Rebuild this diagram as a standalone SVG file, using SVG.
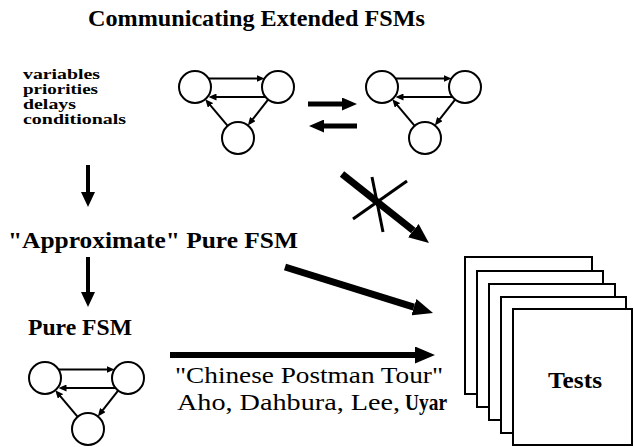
<svg xmlns="http://www.w3.org/2000/svg" xmlns:xlink="http://www.w3.org/1999/xlink" width="634" height="447" viewBox="0 0 634 447">
<style>
text{font-family:'Liberation Serif','Times New Roman','DejaVu Serif',serif;fill:#000}
.b{font-weight:bold}
.c{fill:#fff;stroke:#000;stroke-width:2}
.s{stroke:#000;stroke-width:2;fill:none}
.k{stroke:#000;fill:none}
.page{fill:#fff;stroke:#000;stroke-width:2}
</style>
<defs>
<marker id="hs" viewBox="0 0 8 7" markerWidth="8" markerHeight="7" refX="1" refY="3.5" orient="auto" markerUnits="userSpaceOnUse"><path d="M0,0 L8,3.5 L0,7 z" fill="#000"/></marker>
<marker id="hd" viewBox="0 0 15 14" markerWidth="15" markerHeight="14" refX="0" refY="7" orient="auto" markerUnits="userSpaceOnUse"><path d="M0,0 L15,7 L0,14 z" fill="#000"/></marker>
<marker id="hm" viewBox="0 0 15 13" markerWidth="15" markerHeight="13" refX="0" refY="6.5" orient="auto" markerUnits="userSpaceOnUse"><path d="M0,0 L15,6.5 L0,13 z" fill="#000"/></marker>
<marker id="hb" viewBox="0 0 20 17" markerWidth="20" markerHeight="17" refX="0" refY="8.5" orient="auto" markerUnits="userSpaceOnUse"><path d="M0,0 L20,8.5 L0,17 z" fill="#000"/></marker>
<g id="fsm">
<circle class="c" cx="0" cy="0" r="16"/>
<circle class="c" cx="83" cy="0" r="16"/>
<circle class="c" cx="43" cy="51" r="16"/>
<line class="s" x1="13.6" y1="-8.5" x2="62.5" y2="-8.5" marker-end="url(#hs)"/>
<line class="s" x1="70" y1="10" x2="20.5" y2="10" marker-end="url(#hs)"/>
<line class="s" x1="32.7" y1="38.8" x2="14.8" y2="17.6" marker-end="url(#hs)"/>
<line class="s" x1="73.1" y1="12.6" x2="57.2" y2="32.9" marker-end="url(#hs)"/>
</g>
</defs>
<g id="title"><text class="b" x="88" y="26" font-size="23" textLength="337" lengthAdjust="spacingAndGlyphs">Communicating Extended FSMs</text></g>
<g id="features">
<text class="b" x="23" y="79" font-size="14" textLength="77" lengthAdjust="spacingAndGlyphs">variables</text>
<text class="b" x="23" y="94" font-size="14" textLength="75" lengthAdjust="spacingAndGlyphs">priorities</text>
<text class="b" x="23" y="109" font-size="14" textLength="53" lengthAdjust="spacingAndGlyphs">delays</text>
<text class="b" x="23" y="124" font-size="14" textLength="103" lengthAdjust="spacingAndGlyphs">conditionals</text>
</g>
<g id="efsm1"><use xlink:href="#fsm" transform="translate(195,87)"/></g>
<g id="efsm2"><use xlink:href="#fsm" transform="translate(382,87)"/></g>
<g id="approx"><text class="b" x="8" y="248" font-size="23" textLength="290" lengthAdjust="spacingAndGlyphs">"Approximate" Pure FSM</text></g>
<g id="pure">
<text class="b" x="28" y="335" font-size="24" textLength="104" lengthAdjust="spacingAndGlyphs">Pure FSM</text>
<use xlink:href="#fsm" transform="translate(45,378)"/>
</g>
<g id="tests">
<rect class="page" x="465" y="257" width="127" height="137"/>
<rect class="page" x="477" y="271" width="126" height="136"/>
<rect class="page" x="489" y="284" width="126" height="136"/>
<rect class="page" x="501" y="297" width="125" height="136"/>
<rect class="page" x="513" y="309" width="119" height="136"/>
<text class="b" x="548" y="388" font-size="24" textLength="54" lengthAdjust="spacingAndGlyphs">Tests</text>
</g>
<g id="connectors">
<line class="k" stroke-width="4" x1="88" y1="165" x2="88" y2="192" marker-end="url(#hd)"/>
<line class="k" stroke-width="4" x1="88" y1="257" x2="88" y2="292" marker-end="url(#hd)"/>
<line class="k" stroke-width="5" x1="308" y1="104" x2="342" y2="104" marker-end="url(#hm)"/>
<line class="k" stroke-width="5" x1="357" y1="126" x2="324" y2="126" marker-end="url(#hm)"/>
<line class="k" stroke-width="7" x1="342" y1="174" x2="413.3" y2="230.6" marker-end="url(#hb)"/>
<line class="k" stroke-width="3" x1="372" y1="177" x2="383" y2="232"/>
<line class="k" stroke-width="3" x1="353" y1="219" x2="407" y2="181"/>
<line class="k" stroke-width="7" x1="285" y1="267" x2="413.9" y2="307.1" marker-end="url(#hb)"/>
<line class="k" stroke-width="6" x1="170" y1="355" x2="415" y2="355" marker-end="url(#hb)"/>
<text x="175" y="383" font-size="23" textLength="268" lengthAdjust="spacingAndGlyphs">"Chinese Postman Tour"</text>
<text x="177" y="410" font-size="23" textLength="223" lengthAdjust="spacingAndGlyphs">Aho, Dahbura, Lee,</text>
<text class="b" x="405" y="410" font-size="23" textLength="42" lengthAdjust="spacingAndGlyphs">Uyar</text>
</g>
</svg>
